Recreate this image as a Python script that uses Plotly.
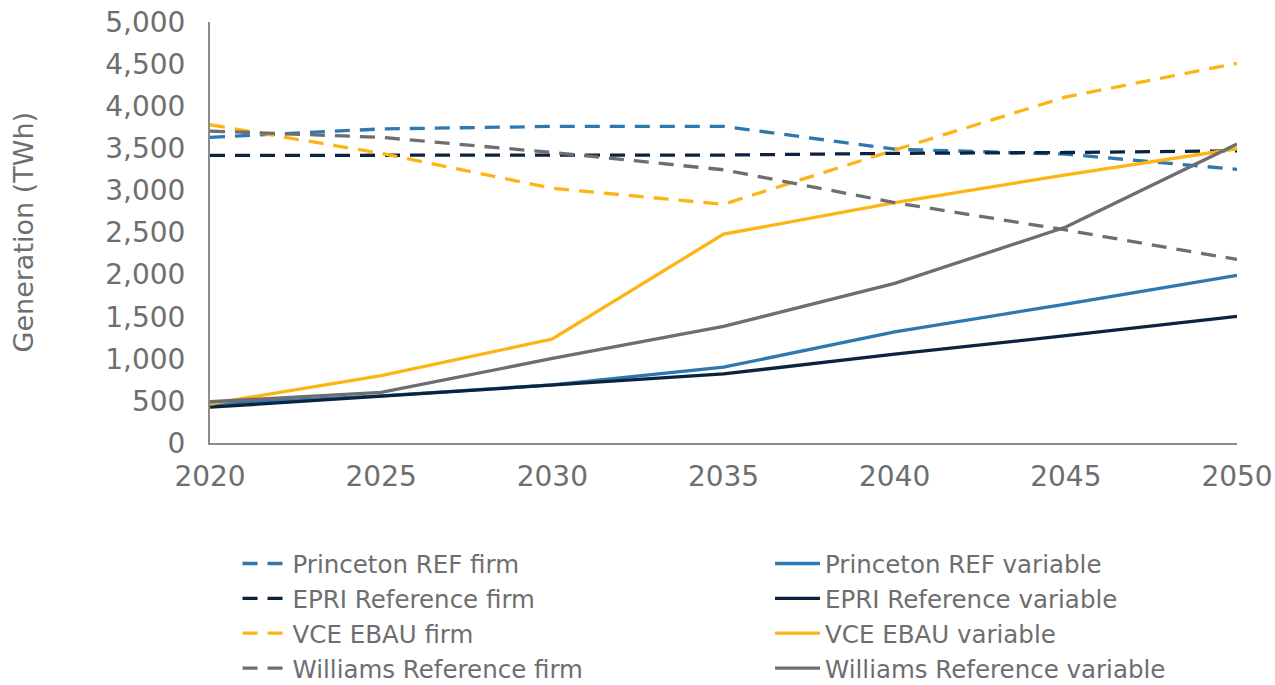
import plotly.graph_objects as go

years = [2020, 2025, 2030, 2035, 2040, 2045, 2050]

princeton_firm = [3630, 3730, 3760, 3760, 3490, 3430, 3250]
princeton_var = [465, 560, 690, 900, 1320, 1650, 1990]
epri_firm = [3415, 3420, 3420, 3420, 3440, 3450, 3470]
epri_var = [425, 555, 685, 820, 1055, 1275, 1505]
vce_firm = [3780, 3440, 3025, 2835, 3480, 4110, 4510]
vce_var = [465, 800, 1235, 2480, 2855, 3185, 3495]
williams_firm = [3705, 3630, 3450, 3245, 2855, 2530, 2180]
williams_var = [490, 600, 1005, 1385, 1895, 2565, 3550]

y_ticks = list(range(0, 5001, 500))
y_ticklabels = [f"{v:,}" for v in y_ticks]

BLUE = "#2E78B0"
NAVY = "#0C2340"
ORANGE = "#FDB515"
GREY = "#6D6E71"
TEXT = "#6E6E70"
FONT = "DejaVu Sans"
DASH = "15px,10px"

series = [
    ("Princeton REF firm", princeton_firm, BLUE, DASH, "legend"),
    ("Princeton REF variable", princeton_var, BLUE, "solid", "legend2"),
    ("EPRI Reference firm", epri_firm, NAVY, DASH, "legend"),
    ("EPRI Reference variable", epri_var, NAVY, "solid", "legend2"),
    ("VCE EBAU firm", vce_firm, ORANGE, DASH, "legend"),
    ("VCE EBAU variable", vce_var, ORANGE, "solid", "legend2"),
    ("Williams Reference firm", williams_firm, GREY, DASH, "legend"),
    ("Williams Reference variable", williams_var, GREY, "solid", "legend2"),
]

fig = go.Figure()
for name, vals, color, dash, leg in series:
    fig.add_trace(go.Scatter(
        x=years, y=vals, name=name, mode="lines",
        line=dict(color=color, width=3.3, dash=dash),
        legend=leg,
    ))

legend_common = dict(
    orientation="v", yanchor="top", xanchor="left",
    font=dict(family=FONT, size=24.5, color=TEXT),
    bgcolor="rgba(0,0,0,0)", borderwidth=0, itemwidth=45,
    tracegroupgap=0, traceorder="normal",
)

fig.update_layout(
    width=1275, height=685,
    paper_bgcolor="white", plot_bgcolor="white",
    margin=dict(l=210, r=38, t=22, b=242, autoexpand=False),
    font=dict(family=FONT, size=27, color=TEXT),
    legend=dict(x=0.0268, y=-0.2329, **legend_common),
    legend2=dict(x=0.5453, y=-0.2329, **legend_common),
    xaxis=dict(
        range=[2020, 2050], tickmode="array", tickvals=years,
        ticktext=[str(y) for y in years],
        showgrid=False, zeroline=False, showline=True,
        linecolor="#8C8C8C", linewidth=2, ticks="",
        tickfont=dict(family=FONT, size=28, color=TEXT),
        ticklabelstandoff=7, automargin=False,
    ),
    yaxis=dict(
        range=[0, 5000], tickmode="array", tickvals=y_ticks,
        ticktext=y_ticklabels,
        showgrid=False, zeroline=False, showline=True,
        linecolor="#8C8C8C", linewidth=2, ticks="",
        tickfont=dict(family=FONT, size=28, color=TEXT),
        ticklabelstandoff=17, automargin=False,
    ),
    annotations=[dict(
        text="Generation (TWh)", xref="paper", yref="paper",
        x=-(210 - 23) / 1027, y=0.5, xanchor="center", yanchor="middle",
        textangle=-90, showarrow=False,
        font=dict(family=FONT, size=27, color=TEXT),
    )],
)

fig.write_html(
    "out.html",
    config={"displayModeBar": False},
    post_script="document.body.style.margin='0';document.body.style.overflow='hidden';",
)
